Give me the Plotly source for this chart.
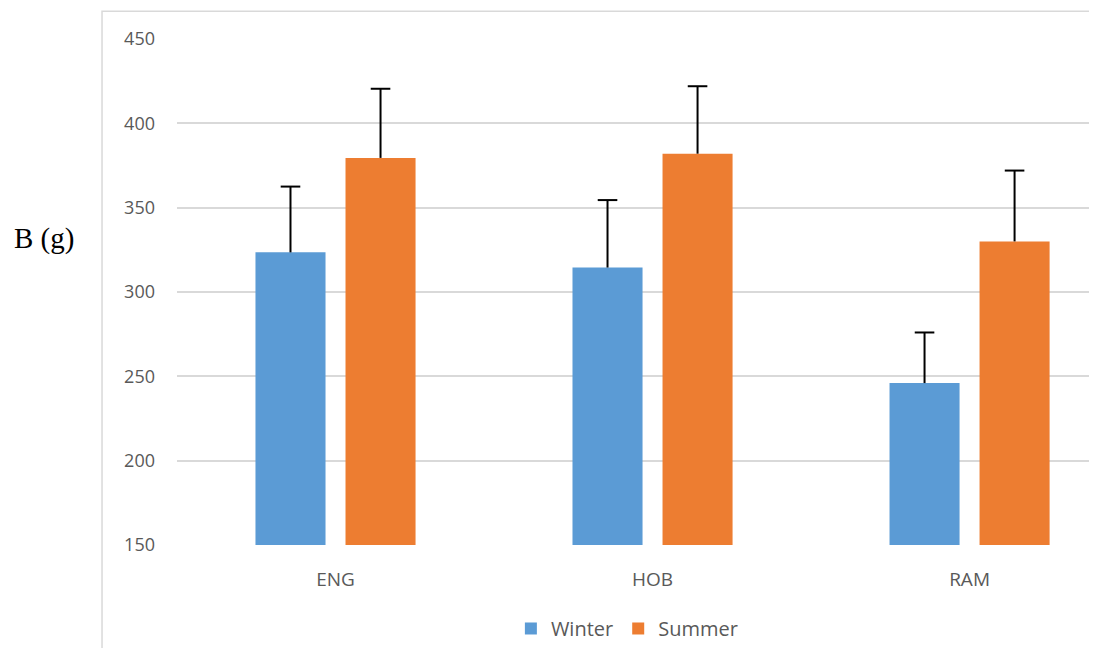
import plotly.graph_objects as go

categories = ["ENG", "HOB", "RAM"]
winter = [323.5, 314.5, 246]
summer = [379.5, 382, 330]
winter_err = [39, 40, 30]
summer_err = [41, 40, 42]
y_ticks = [150, 200, 250, 300, 350, 400, 450]

winter_top = [v + e for v, e in zip(winter, winter_err)]
summer_top = [v + e for v, e in zip(summer, summer_err)]

fig = go.Figure()
for name, vals, errs, col, grp in [
    ("Winter", winter, winter_err, "#5B9BD5", "w"),
    ("Summer", summer, summer_err, "#ED7D31", "s"),
]:
    fig.add_trace(go.Bar(
        x=categories, y=vals, name=name, marker_color=col, offsetgroup=grp,
        marker_line_width=0,
        error_y=dict(type="data", array=errs, arrayminus=[0]*3, symmetric=False,
                     color="black", thickness=2, width=0),
    ))
for tops, grp in [(winter_top, "w"), (summer_top, "s")]:
    fig.add_trace(go.Scatter(
        x=categories, y=tops, mode="markers", offsetgroup=grp, showlegend=False,
        hoverinfo="skip",
        marker=dict(symbol="line-ew", size=14, color="black",
                    line=dict(color="black", width=2)),
    ))

# page body has an 8px margin; figure sized so the page does not scroll
fig.update_layout(
    width=1089, height=640,
    margin=dict(l=169, r=0, t=31, b=103),
    paper_bgcolor="white", plot_bgcolor="white",
    barmode="group", bargap=0.432, bargroupgap=0.222,
    scattermode="group", scattergap=0.432,
    font=dict(family="Open Sans", size=18, color="#595959"),
    showlegend=True,
    legend=dict(orientation="h", x=0.489, xanchor="center", y=-0.165, yanchor="middle",
                font=dict(size=20, color="#595959"), itemwidth=30),
    xaxis=dict(range=[-0.5, 2.402], showgrid=False, showline=False, ticks="",
               ticklabelstandoff=21, tickfont=dict(size=19, color="#595959")),
    yaxis=dict(range=[150, 450], tickvals=y_ticks, showgrid=True, gridcolor="#d9d9d9",
               gridwidth=1.5, zeroline=False, showline=False, ticks="",
               ticklabelstandoff=21, tickfont=dict(size=18, color="#595959")),
    shapes=[dict(type="rect", xref="paper", yref="paper", x0=-0.0815, x1=1.05,
                 y0=-0.3, y1=1.0547, line=dict(color="#d9d9d9", width=1.5),
                 fillcolor="rgba(0,0,0,0)", layer="below")],
    annotations=[dict(text="B (g)", xref="paper", yref="paper", x=-0.1446,
                      y=0.6066, showarrow=False, xanchor="center", yanchor="middle",
                      font=dict(family="Liberation Serif", size=29, color="black"))],
)

fig.write_html("out.html")
